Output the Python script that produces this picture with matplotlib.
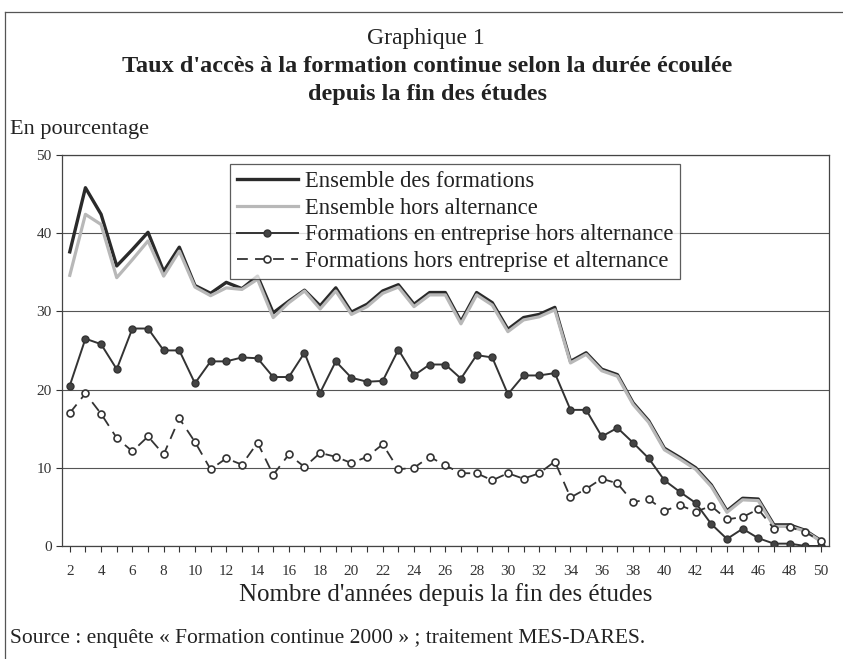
import numpy as np
import matplotlib
matplotlib.use("Agg")
import matplotlib.pyplot as plt

plt.rcParams['font.family'] = ['Liberation Serif', 'DejaVu Serif']

# years since end of studies
years = list(range(2, 51))

ensemble = [37.6, 45.8, 42.4, 35.8, 37.9, 40.1, 35.1, 38.2, 33.3, 32.3,
            33.7, 32.9, 34.5, 29.8, 31.3, 32.7, 30.7, 33.0, 29.9, 30.9,
            32.6, 33.4, 30.9, 32.4, 32.4, 28.7, 32.4, 31.1, 27.7, 29.2,
            29.6, 30.5, 23.6, 24.7, 22.6, 21.9, 18.3, 16.0, 12.5, 11.3,
            10.0, 7.8, 4.5, 6.1, 6.0, 2.7, 2.7, 2.0, 0.7]

hors_alternance = [34.6, 42.4, 41.1, 34.3, 36.6, 39.0, 34.5, 37.7, 33.1, 32.0,
                   33.0, 32.8, 34.1, 29.2, 31.1, 32.6, 30.3, 32.6, 29.6, 30.6,
                   32.3, 33.1, 30.6, 32.1, 32.1, 28.4, 32.1, 30.8, 27.4, 28.9,
                   29.3, 30.2, 23.4, 24.5, 22.4, 21.7, 18.1, 15.8, 12.3, 11.1,
                   9.8, 7.6, 4.3, 5.9, 5.8, 2.5, 2.5, 1.9, 0.6]

en_entreprise = [20.5, 26.5, 25.8, 22.6, 27.8, 27.8, 25.0, 25.0, 20.8, 23.6,
                 23.6, 24.1, 24.0, 21.6, 21.6, 24.7, 19.6, 23.6, 21.5, 21.0,
                 21.1, 25.1, 21.8, 23.2, 23.2, 21.4, 24.4, 24.1, 19.4, 21.8,
                 21.8, 22.1, 17.4, 17.4, 14.0, 15.1, 13.2, 11.2, 8.4, 6.9,
                 5.5, 2.8, 0.9, 2.2, 1.0, 0.3, 0.3, 0.0, 0.0]

hors_entreprise = [17.0, 19.5, 16.9, 13.8, 12.1, 14.0, 11.7, 16.3, 13.3, 9.8,
                   11.2, 10.4, 13.2, 9.1, 11.7, 10.1, 11.9, 11.4, 10.6, 11.4,
                   13.0, 9.8, 10.0, 11.4, 10.3, 9.3, 9.3, 8.4, 9.3, 8.6,
                   9.3, 10.8, 6.2, 7.3, 8.6, 8.0, 5.6, 6.0, 4.5, 5.2,
                   4.4, 5.1, 3.4, 3.7, 4.7, 2.2, 2.4, 1.8, 0.6]

labels = ["Ensemble des formations", "Ensemble hors alternance",
          "Formations en entreprise hors alternance",
          "Formations hors entreprise et alternance"]

fig = plt.figure(figsize=(8.43, 6.59), dpi=100)
ax = fig.add_axes([0.0735, 0.1715, 0.9095, 0.5935])

ax.plot(years, ensemble, color='#2a2a2a', lw=2.4, label=labels[0], zorder=3)
ax.plot(years, hors_alternance, color='#b8b8b8', lw=2.3, label=labels[1], zorder=4)
ax.plot(years, en_entreprise, color='#333333', lw=1.4, marker='o', ms=5,
        mfc='#444444', mec='#333333', label=labels[2], zorder=5)
ax.plot(years, hors_entreprise, color='#333333', lw=1.3, ls=(0, (6, 4)),
        marker='o', ms=5, mfc='white', mec='#333333', mew=1.2,
        label=labels[3], zorder=5)

ax.set_xlim(1.5, 50.5)
ax.set_ylim(0, 50)
ax.set_yticks(range(0, 51, 10))
ax.set_xticks(years, minor=True)
ax.set_xticks(range(2, 51, 2))
ax.tick_params(axis='both', labelsize=11, colors='#333333', length=4, width=0.8)
ax.tick_params(axis='x', which='minor', length=4, width=0.8, colors='#333333')
ax.tick_params(axis='x', pad=10)
ax.grid(axis='y', color='#555555', lw=0.8)
ax.set_axisbelow(True)
for s in ax.spines.values():
    s.set_color('#444444')
    s.set_linewidth(0.9)

ax.set_xlabel("Nombre d'années depuis la fin des études", fontsize=18,
              color='#222222', labelpad=3)

leg = ax.legend(loc='upper left', bbox_to_anchor=(0.219, 0.977), fontsize=16.3,
                frameon=True, fancybox=False, edgecolor='#333333',
                handlelength=2.7, borderpad=0.3, labelspacing=0.26,
                handletextpad=0.3, borderaxespad=0)
leg.get_frame().set_linewidth(0.9)
for t in leg.get_texts():
    t.set_color('#222222')

fig.text(0.505, 0.933, "Graphique 1", ha='center', fontsize=17, color='#222222')
fig.text(0.507, 0.891, "Taux d'accès à la formation continue selon la durée écoulée",
         ha='center', fontsize=17.5, fontweight='bold', color='#222222')
fig.text(0.507, 0.848, "depuis la fin des études", ha='center', fontsize=17.5,
         fontweight='bold', color='#222222')
fig.text(0.012, 0.796, "En pourcentage", fontsize=16, color='#222222')
fig.text(0.012, 0.025, "Source : enquête « Formation continue 2000 » ; traitement MES-DARES.",
         fontsize=15.5, color='#222222')

# outer frame of the graphic
fig.add_artist(plt.Line2D([0.006, 0.006], [0.0, 0.982], color='#555555', lw=0.9))
fig.add_artist(plt.Line2D([0.006, 1.0], [0.982, 0.982], color='#555555', lw=0.9))

fig.savefig("out.png", dpi=100)
